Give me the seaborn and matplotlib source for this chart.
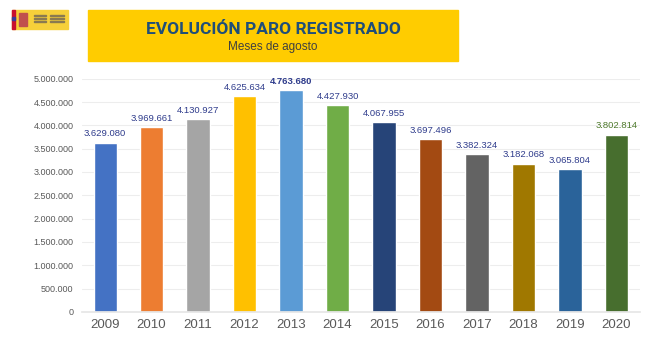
#!/usr/bin/env python3

import pandas as pd
import matplotlib.pyplot as plt
import matplotlib.patches as mpatches
import seaborn as sns

# Data
years = ['2009', '2010', '2011', '2012', '2013', '2014',
         '2015', '2016', '2017', '2018', '2019', '2020']
paro = [3629080, 3969661, 4130927, 4625634, 4763680, 4427930,
        4067955, 3697496, 3382324, 3182068, 3065804, 3802814]
bar_colors = ['#4472C4', '#ED7D31', '#A5A5A5', '#FFC000', '#5B9BD5', '#70AD47',
              '#264478', '#A34A12', '#636363', '#A07800', '#2A639A', '#476E2E']
y_ticks = [0, 500000, 1000000, 1500000, 2000000, 2500000,
           3000000, 3500000, 4000000, 4500000, 5000000]


def fmt_es(v):
    return f"{v:,}".replace(",", ".")


sns.set_theme(style="white")
plt.rcParams['font.family'] = ['Liberation Sans', 'DejaVu Sans']

df = pd.DataFrame({'year': years, 'paro': paro})

fig = plt.figure(figsize=(6.5, 3.5), dpi=100)
fig.patch.set_facecolor('white')
ax = fig.add_axes([0.126, 0.109, 0.858, 0.666])

sns.barplot(data=df, x='year', y='paro', hue='year', palette=bar_colors,
            width=0.5, legend=False, saturation=1, ax=ax)

ax.set_ylim(0, 5000000)
ax.set_xlim(-0.5, 11.5)
ax.set_yticks(y_ticks)
ax.set_yticklabels([fmt_es(t) for t in y_ticks], fontsize=6.5, color='#595959')
ax.tick_params(axis='x', labelsize=9.5, labelcolor='#595959', length=0, pad=5)
ax.tick_params(axis='y', length=0, pad=6)
ax.set_xlabel('')
ax.set_ylabel('')
ax.yaxis.grid(True, color='#EDEDED', linewidth=0.8)
ax.set_axisbelow(True)
for s in ['top', 'right', 'left']:
    ax.spines[s].set_visible(False)
ax.spines['bottom'].set_color('#E6E6E6')

# Value labels
for i, v in enumerate(paro):
    color = '#2F3C8C'
    weight = 'normal'
    if years[i] == '2013':
        weight = 'bold'
    if years[i] == '2020':
        color = '#4E7A2C'
    ax.text(i, v + 90000, fmt_es(v), ha='center', va='bottom',
            fontsize=6.8, color=color, fontweight=weight)

# Title banner
fig.patches.append(mpatches.Rectangle((88 / 650, 1 - 61 / 350), 370 / 650, 51 / 350,
                                      transform=fig.transFigure, color='#FFCC00',
                                      zorder=0))
fig.text(273 / 650, 1 - 29 / 350, 'EVOLUCIÓN PARO REGISTRADO', ha='center', va='center',
         fontsize=12.5, fontweight='bold', color='#1F4E79', fontstretch='condensed',
         family=['DejaVu Sans Condensed', 'Roboto'])
fig.text(273 / 650, 1 - 47 / 350, 'Meses de agosto', ha='center', va='center',
         fontsize=8.5, color='#404040')

# Small logo block
fig.patches.append(mpatches.Rectangle((12 / 650, 1 - 29 / 350), 56 / 650, 19 / 350,
                                      transform=fig.transFigure, color='#F6D03A', zorder=0))
fig.patches.append(mpatches.Rectangle((12 / 650, 1 - 29 / 350), 3 / 650, 19 / 350,
                                      transform=fig.transFigure, color='#C8102E', zorder=1))
fig.patches.append(mpatches.Rectangle((12 / 650, 1 - 20 / 350), 3 / 650, 3 / 350,
                                      transform=fig.transFigure, color='#3A3A9A', zorder=2))
fig.patches.append(mpatches.Rectangle((19 / 650, 1 - 26 / 350), 8 / 650, 13 / 350,
                                      transform=fig.transFigure, color='#C0504D', zorder=1))
for yy in [16, 19, 22]:
    fig.patches.append(mpatches.Rectangle((34 / 650, 1 - yy / 350), 12 / 650, 1 / 350,
                                          transform=fig.transFigure, color='#8A7A50', zorder=1))
    fig.patches.append(mpatches.Rectangle((50 / 650, 1 - yy / 350), 14 / 650, 1 / 350,
                                          transform=fig.transFigure, color='#8A7A50', zorder=1))

fig.savefig('out.png', dpi=100)
